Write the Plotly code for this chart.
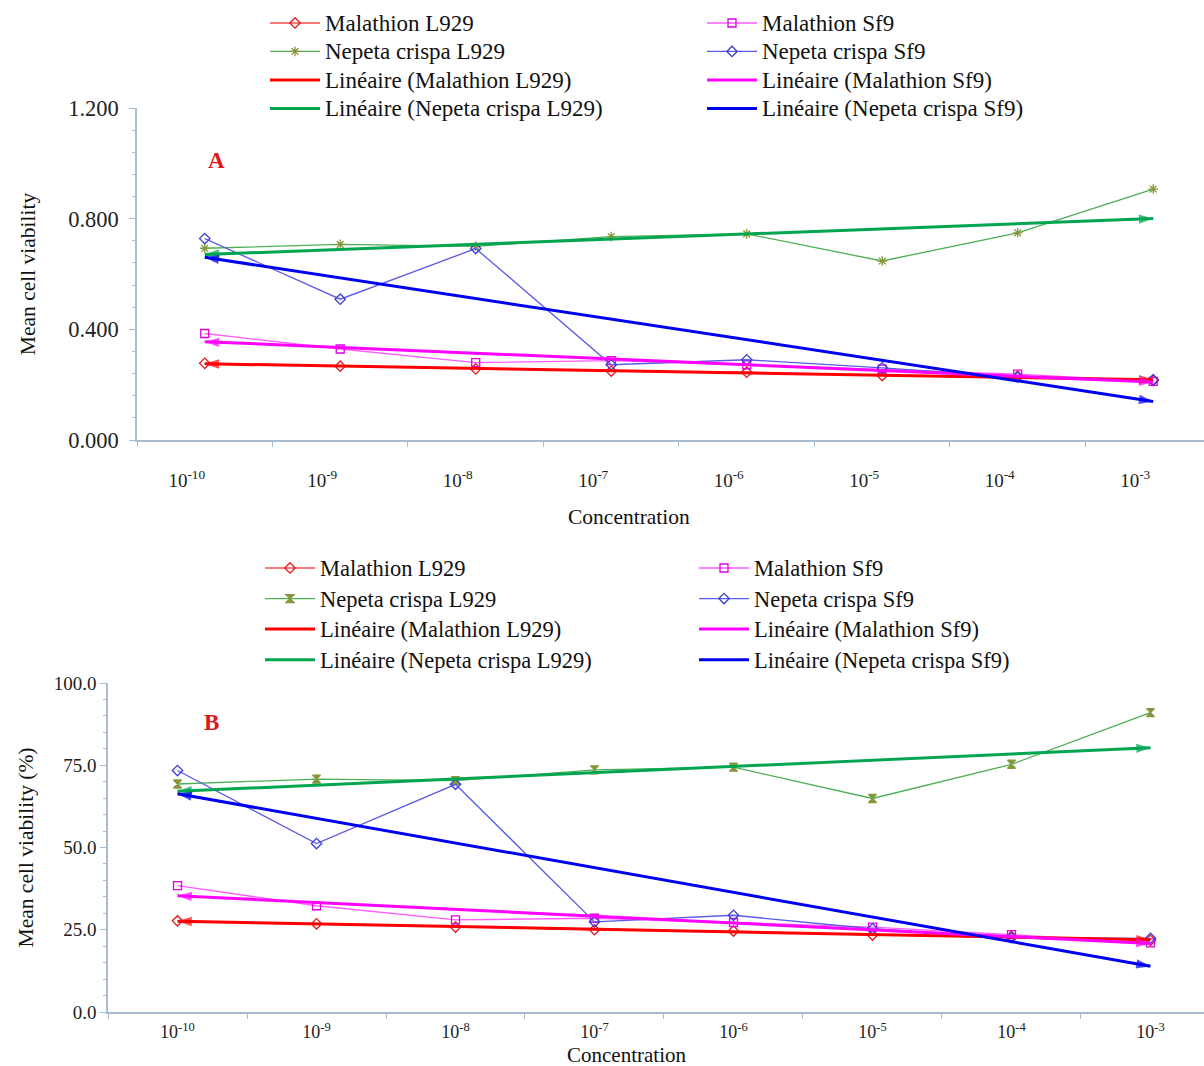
import numpy as np
import plotly.graph_objects as go

# ---------------- data ----------------
concentrations = ["10<sup>-10</sup>", "10<sup>-9</sup>", "10<sup>-8</sup>", "10<sup>-7</sup>",
                  "10<sup>-6</sup>", "10<sup>-5</sup>", "10<sup>-4</sup>", "10<sup>-3</sup>"]
series_names = ["Malathion L929", "Malathion Sf9", "Nepeta crispa L929", "Nepeta crispa Sf9"]

# Panel A (mean cell viability, fraction)
a_malathion_l929 = [0.277, 0.267, 0.257, 0.249, 0.245, 0.233, 0.230, 0.215]
a_malathion_sf9 = [0.385, 0.329, 0.280, 0.287, 0.272, 0.256, 0.238, 0.212]
a_nepeta_l929 = [0.693, 0.707, 0.700, 0.735, 0.745, 0.647, 0.749, 0.907]
a_nepeta_sf9 = [0.728, 0.509, 0.692, 0.272, 0.290, 0.261, 0.228, 0.218]

# Panel B (mean cell viability, %)
b_malathion_l929 = [27.7, 26.8, 25.8, 25.0, 24.6, 23.4, 23.0, 21.8]
b_malathion_sf9 = [38.4, 32.3, 28.0, 28.5, 27.2, 25.8, 23.5, 21.0]
b_nepeta_l929 = [69.3, 70.8, 70.3, 73.6, 74.4, 64.9, 75.3, 91.0]
b_nepeta_sf9 = [73.4, 51.2, 69.2, 27.4, 29.4, 25.3, 22.6, 22.4]

a_ticks = [0, 0.4, 0.8, 1.2]
b_ticks = [0, 25, 50, 75, 100]

# ---------------- styles ----------------
SERIF = "Liberation Serif, Times New Roman, serif"
AXIS_COL = "#a9bccf"
line_cols = ["#ff4d4d", "#ff5cff", "#4caf55", "#5a5ae8"]
marker_cols = ["#e3191c", "#e000e0", "#86963a", "#3c3cd8"]
trend_cols = ["#ff0000", "#ff00ff", "#00a550", "#0000f0"]
symbols_a = ["diamond-open", "square-open", "asterisk-open", "diamond-open"]
symbols_b = ["diamond-open", "square-open", "hourglass", "diamond-open"]

fig = go.Figure()


def add_panel(xa, ya, legend, data, symbols, text_size):
    for i, (name, vals) in enumerate(zip(series_names, data)):
        fig.add_trace(go.Scatter(
            x=concentrations, y=vals, mode="lines+markers",
            name=f"<span style='font-size:{text_size}px'>{name}</span>",
            line=dict(color=line_cols[i], width=1.3),
            marker=dict(symbol=symbols[i], size=8, color=marker_cols[i],
                        line=dict(color=marker_cols[i], width=1.3)),
            xaxis=xa, yaxis=ya, legend=legend))
    idx = np.arange(len(concentrations))
    ends = []
    for i, (name, vals) in enumerate(zip(series_names, data)):
        slope, intercept = np.polyfit(idx, np.array(vals, dtype=float), 1)
        y_start = intercept
        y_end = intercept + slope * idx[-1]
        ends.append((y_start, y_end))
        fig.add_trace(go.Scatter(
            x=[concentrations[0], concentrations[-1]], y=[y_start, y_end], mode="lines",
            name=f"<span style='font-size:{text_size}px'>Linéaire ({name})</span>",
            line=dict(color=trend_cols[i], width=3),
            xaxis=xa, yaxis=ya, legend=legend))
    for i, (y_start, y_end) in enumerate(ends):
        for xs, ys in (([concentrations[0], concentrations[-1]], [y_start, y_end]),
                       ([concentrations[-1], concentrations[0]], [y_end, y_start])):
            fig.add_trace(go.Scatter(
                x=xs, y=ys, mode="markers", showlegend=False, hoverinfo="skip",
                marker=dict(symbol="arrow", size=[0, 15], angleref="previous",
                            color=trend_cols[i], line=dict(width=0)),
                xaxis=xa, yaxis=ya))


add_panel("x", "y", "legend",
          [a_malathion_l929, a_malathion_sf9, a_nepeta_l929, a_nepeta_sf9], symbols_a, 23)
add_panel("x2", "y2", "legend2",
          [b_malathion_l929, b_malathion_sf9, b_nepeta_l929, b_nepeta_sf9], symbols_b, 22.5)

W, H = 1204, 1066


def xaxis_cfg(left_px, right_range, standoff, shift, fsize, anchor):
    return dict(
        domain=[left_px / W, 1], anchor=anchor, type="category",
        categoryorder="array", categoryarray=concentrations,
        range=[-0.5, right_range], tickson="boundaries",
        ticks="outside", ticklen=5, tickcolor=AXIS_COL, tickwidth=1,
        showline=True, linecolor=AXIS_COL, linewidth=1.5,
        showgrid=False, zeroline=False, automargin=False,
        tickfont=dict(family=SERIF, size=fsize, color="#222"),
        ticklabelstandoff=standoff, ticklabelshift=shift,
    )


def yaxis_cfg(bottom_px, top_px, rng, ticks, fmt, minor_dtick, fsize, standoff, title,
              title_standoff, anchor):
    return dict(
        domain=[1 - bottom_px / H, 1 - top_px / H], anchor=anchor, range=rng,
        tickvals=ticks, tickformat=fmt,
        ticks="outside", ticklen=6, tickcolor=AXIS_COL, tickwidth=1,
        minor=dict(dtick=minor_dtick, tick0=0, ticks="outside", ticklen=3,
                   tickcolor=AXIS_COL, showgrid=False),
        showline=True, linecolor=AXIS_COL, linewidth=1.5,
        showgrid=False, zeroline=False, automargin=False,
        tickfont=dict(family=SERIF, size=fsize, color="#222"),
        ticklabelstandoff=standoff,
        title=dict(text=title, font=dict(family=SERIF, size=21.5, color="#111"),
                   standoff=title_standoff),
    )


def paper_text(text, x_px, y_px, size, color, bold=False):
    return dict(text=f"<b>{text}</b>" if bold else text, x=x_px / W, y=1 - y_px / H,
                xref="paper", yref="paper", xanchor="center", yanchor="middle",
                showarrow=False, font=dict(family=SERIF, size=size, color=color))


fig.update_layout(
    width=W, height=H, margin=dict(l=0, r=0, t=0, b=0),
    paper_bgcolor="white", plot_bgcolor="white",
    font=dict(family=SERIF, color="#111"),
    xaxis=xaxis_cfg(137, 7.375, 22, -18, 19, "y"),
    yaxis=yaxis_cfg(440, 108, [0, 1.2], a_ticks, ".3f", 0.08, 22.5, 6,
                    "Mean cell viability", 27, "x"),
    xaxis2=xaxis_cfg(108, 7.385, 3, 0, 18, "y2"),
    yaxis2=yaxis_cfg(1012, 683, [0, 100], b_ticks, ".1f", 5, 19, 0,
                     "Mean cell viability (%)", 14, "x2"),
    legend=dict(x=265 / W, y=1 - 3.75 / H, xanchor="left", yanchor="top",
                orientation="h", entrywidth=372, entrywidthmode="pixels",
                itemwidth=50, font=dict(family=SERIF, size=19.6, color="#111"),
                bgcolor="rgba(0,0,0,0)", traceorder="normal"),
    legend2=dict(x=260 / W, y=1 - 547.7 / H, xanchor="left", yanchor="top",
                 orientation="h", entrywidth=369, entrywidthmode="pixels",
                 itemwidth=50, font=dict(family=SERIF, size=21.2, color="#111"),
                 bgcolor="rgba(0,0,0,0)", traceorder="normal"),
    annotations=[
        paper_text("A", 217, 160, 23, "#e3141c", bold=True),
        paper_text("B", 211, 722, 23, "#e3141c", bold=True),
        paper_text("Concentration", 629, 517, 21.5, "#111"),
        paper_text("Concentration", 626, 1055, 21, "#111"),
    ],
    showlegend=True,
)

fig.write_html("out.html", config={"displayModeBar": False},
               post_script="document.body.style.margin='0px';document.body.style.overflow='hidden';")
